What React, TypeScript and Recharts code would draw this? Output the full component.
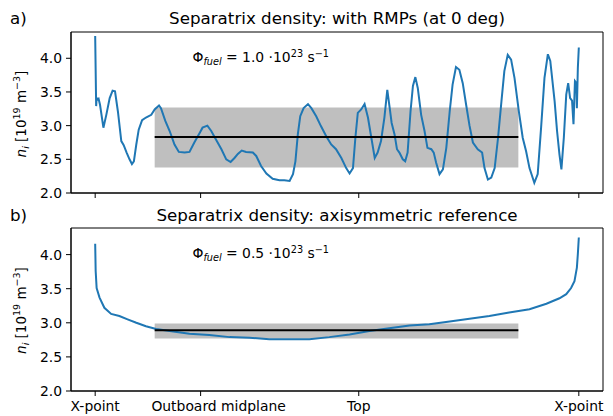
import React from "react";
import {
  ComposedChart,
  Line,
  XAxis,
  YAxis,
  ReferenceArea,
  ReferenceLine,
} from "recharts";

// poloidal position along separatrix (0 = X-point, 1 = X-point), density in 1e19 m^-3
const rmpProfile: [number, number][] = [
  [0, 4.33], [0.002, 3.29], [0.003, 3.41], [0.005, 3.39], [0.007, 3.4], [0.01, 3.31],
  [0.017, 2.97], [0.023, 3.16], [0.03, 3.41], [0.036, 3.52], [0.041, 3.51], [0.047, 3.21],
  [0.054, 2.77], [0.059, 2.71], [0.065, 2.6], [0.071, 2.5], [0.076, 2.43], [0.08, 2.47],
  [0.085, 2.72], [0.09, 2.94], [0.097, 3.08], [0.105, 3.12], [0.116, 3.16], [0.123, 3.24],
  [0.132, 3.3], [0.136, 3.26], [0.145, 3.07], [0.154, 2.92], [0.164, 2.72], [0.173, 2.61],
  [0.185, 2.6], [0.195, 2.61], [0.205, 2.75], [0.216, 2.89], [0.222, 2.97], [0.232, 3.0],
  [0.24, 2.92], [0.25, 2.79], [0.261, 2.65], [0.271, 2.5], [0.28, 2.46], [0.288, 2.52],
  [0.295, 2.58], [0.303, 2.63], [0.312, 2.61], [0.326, 2.6], [0.333, 2.55], [0.343, 2.4],
  [0.354, 2.29], [0.367, 2.21], [0.381, 2.19], [0.391, 2.19], [0.402, 2.18], [0.409, 2.28],
  [0.414, 2.47], [0.419, 2.87], [0.424, 3.14], [0.431, 3.26], [0.44, 3.32], [0.447, 3.26],
  [0.457, 3.14], [0.467, 2.99], [0.478, 2.84], [0.488, 2.72], [0.498, 2.65], [0.509, 2.52],
  [0.519, 2.37], [0.526, 2.29], [0.533, 2.37], [0.538, 2.82], [0.543, 3.19], [0.55, 3.24],
  [0.557, 3.32], [0.564, 3.12], [0.571, 2.82], [0.578, 2.52], [0.584, 2.6], [0.591, 2.77],
  [0.598, 3.12], [0.604, 3.53], [0.609, 3.26], [0.613, 3.04], [0.619, 2.87], [0.624, 2.65],
  [0.629, 2.6], [0.636, 2.5], [0.641, 2.47], [0.646, 2.6], [0.652, 3.21], [0.657, 3.59],
  [0.662, 3.72], [0.667, 3.56], [0.674, 3.16], [0.681, 2.92], [0.687, 2.67], [0.695, 2.65],
  [0.7, 2.6], [0.705, 2.45], [0.712, 2.28], [0.719, 2.35], [0.726, 2.67], [0.733, 3.21],
  [0.739, 3.61], [0.746, 3.87], [0.753, 3.83], [0.76, 3.63], [0.767, 3.31], [0.774, 3.0],
  [0.781, 2.75], [0.791, 2.65], [0.8, 2.6], [0.805, 2.37], [0.812, 2.2], [0.819, 2.23],
  [0.826, 2.37], [0.833, 2.82], [0.84, 3.36], [0.846, 3.81], [0.853, 4.05], [0.86, 3.98],
  [0.867, 3.71], [0.876, 3.21], [0.884, 2.82], [0.891, 2.62], [0.898, 2.37], [0.908, 2.15],
  [0.915, 2.28], [0.922, 2.97], [0.929, 3.71], [0.936, 4.06], [0.941, 3.96], [0.95, 3.36],
  [0.955, 2.92], [0.96, 2.57], [0.964, 2.35], [0.969, 2.82], [0.974, 3.46], [0.978, 3.63],
  [0.982, 3.41], [0.986, 3.37], [0.989, 3.02], [0.992, 3.66], [0.995, 3.63], [0.996, 3.26],
  [0.998, 3.86], [1.0, 4.16],
];

const axiProfile: [number, number][] = [
  [0, 4.16], [0.001, 3.76], [0.003, 3.51], [0.009, 3.37], [0.019, 3.22], [0.033, 3.13],
  [0.05, 3.1], [0.067, 3.05], [0.085, 3.0], [0.105, 2.95], [0.126, 2.91], [0.154, 2.88],
  [0.195, 2.84], [0.236, 2.82], [0.278, 2.79], [0.319, 2.78], [0.36, 2.76], [0.402, 2.76],
  [0.443, 2.76], [0.484, 2.79], [0.526, 2.83], [0.567, 2.88], [0.608, 2.92], [0.65, 2.96],
  [0.691, 2.98], [0.733, 3.02], [0.774, 3.06], [0.815, 3.1], [0.856, 3.15], [0.898, 3.2],
  [0.933, 3.28], [0.96, 3.36], [0.974, 3.42], [0.984, 3.51], [0.991, 3.61], [0.996, 3.81],
  [0.998, 4.01], [1.0, 4.25],
];

// averaging window and mean / spread
const rmpBand = { from: 0.123, to: 0.875, low: 2.38, high: 3.27, mean: 2.83 };
const axiBand = { from: 0.123, to: 0.875, low: 2.77, high: 2.99, mean: 2.89 };

const xTicks = [0, 0.218, 0.545, 1];
const xTickLabels = ["X-point", "Outboard midplane", "Top", "X-point"];
const yTicks = [2.0, 2.5, 3.0, 3.5, 4.0];

// the midplane label sits a bit right of its tick in the original
const xLabelShift = [0, 18, 0, 0];

const X_DOMAIN: [number, number] = [-0.05, 1.05];
const Y_DOMAIN: [number, number] = [2, 4.39];
const FONT = "'DejaVu Sans', sans-serif";

const toRows = (p: [number, number][]) => p.map(([pos, n]) => ({ pos, n }));

const XTick = (props: any) => {
  const { x, y, payload, showLabels } = props;
  if (!showLabels) return null;
  const i = xTicks.indexOf(payload.value);
  return (
    <text
      x={x + (xLabelShift[i] ?? 0)}
      y={y}
      dy="0.71em"
      textAnchor="middle"
      fontSize={13.9}
      fontFamily={FONT}
      fill="#000"
    >
      {xTickLabels[i]}
    </text>
  );
};

type PanelProps = {
  profile: [number, number][];
  band: typeof rmpBand;
  height: number;
  marginTop: number;
  axisHeight: number;
  showLabels: boolean;
};

const DensityPanel = ({ profile, band, height, marginTop, axisHeight, showLabels }: PanelProps) => {
  return (
    <ComposedChart
      width={613}
      height={height}
      data={toRows(profile)}
      margin={{ top: marginTop, right: 10, bottom: 0, left: 0 }}
    >
      <XAxis
        dataKey="pos"
        type="number"
        domain={X_DOMAIN}
        ticks={xTicks}
        allowDataOverflow
        height={axisHeight}
        tickSize={5}
        tickMargin={5}
        stroke="#000"
        tick={(p: any) => <XTick {...p} showLabels={showLabels} />}
      />
      <YAxis
        type="number"
        domain={Y_DOMAIN}
        ticks={yTicks}
        allowDataOverflow
        width={71}
        tickSize={5}
        tickMargin={4}
        stroke="#000"
        tickFormatter={(v) => v.toFixed(1)}
        tick={{ fill: "#000", fontSize: 13.9, fontFamily: FONT }}
      />
      <ReferenceArea
        x1={band.from}
        x2={band.to}
        y1={band.low}
        y2={band.high}
        fill="#bfbfbf"
        fillOpacity={1}
        stroke="none"
      />
      <Line
        dataKey="n"
        type="linear"
        stroke="#1f77b4"
        strokeWidth={2}
        dot={false}
        isAnimationActive={false}
      />
      <ReferenceLine
        segment={[
          { x: band.from, y: band.mean },
          { x: band.to, y: band.mean },
        ]}
        stroke="#000"
        strokeWidth={2}
      />
      <ReferenceArea
        x1={X_DOMAIN[0]}
        x2={X_DOMAIN[1]}
        y1={Y_DOMAIN[0]}
        y2={Y_DOMAIN[1]}
        fill="none"
        stroke="#000"
        strokeWidth={1}
      />
    </ComposedChart>
  );
};

const FuelNote = ({ x, y, value }: { x: number; y: number; value: string }) => (
  <text x={x} y={y} fontSize={13.9} fontFamily={FONT} fill="#000">
    Φ
    <tspan fontStyle="italic" fontSize={9.7} dy={3}>fuel</tspan>
    <tspan dy={-3}>{` = ${value} ·10`}</tspan>
    <tspan fontSize={9.7} dy={-5.5}>23</tspan>
    <tspan dy={5.5}> s</tspan>
    <tspan fontSize={9.7} dy={-5.5}>−1</tspan>
  </text>
);

const YLabel = ({ x, y }: { x: number; y: number }) => (
  <text
    x={x}
    y={y}
    transform={`rotate(-90 ${x} ${y})`}
    textAnchor="middle"
    fontSize={13.5}
    fontFamily={FONT}
    fill="#000"
  >
    <tspan fontStyle="italic">n</tspan>
    <tspan fontStyle="italic" fontSize={9.5} dy={3}>i</tspan>
    <tspan dy={-3}> [10</tspan>
    <tspan fontSize={9.5} dy={-5.5}>19</tspan>
    <tspan dy={5.5}> m</tspan>
    <tspan fontSize={9.5} dy={-5.5}>−3</tspan>
    <tspan dy={5.5}>]</tspan>
  </text>
);

export default function App() {
  return (
    <div style={{ position: "absolute", left: 0, top: 0, width: 613, height: 416, background: "#fff" }}>
      <div style={{ position: "absolute", left: 0, top: 0 }}>
        <DensityPanel profile={rmpProfile} band={rmpBand} height={215} marginTop={32} axisHeight={22} showLabels={false} />
      </div>
      <div style={{ position: "absolute", left: 0, top: 200 }}>
        <DensityPanel profile={axiProfile} band={axiBand} height={216} marginTop={28} axisHeight={25} showLabels />
      </div>
      <svg
        width={613}
        height={416}
        style={{ position: "absolute", left: 0, top: 0, pointerEvents: "none" }}
      >
        <text x={10} y={24} fontSize={16.7} fontFamily={FONT} fill="#000">a)</text>
        <text x={337} y={24} textAnchor="middle" fontSize={16.7} fontFamily={FONT} fill="#000">
          Separatrix density: with RMPs (at 0 deg)
        </text>
        <text x={10} y={220.5} fontSize={16.7} fontFamily={FONT} fill="#000">b)</text>
        <text x={337} y={220.5} textAnchor="middle" fontSize={16.7} fontFamily={FONT} fill="#000">
          Separatrix density: axisymmetric reference
        </text>
        <FuelNote x={192.5} y={62.3} value="1.0" />
        <FuelNote x={192.5} y={258.3} value="0.5" />
        <YLabel x={25.5} y={114} />
        <YLabel x={25.5} y={310.5} />
      </svg>
    </div>
  );
}
